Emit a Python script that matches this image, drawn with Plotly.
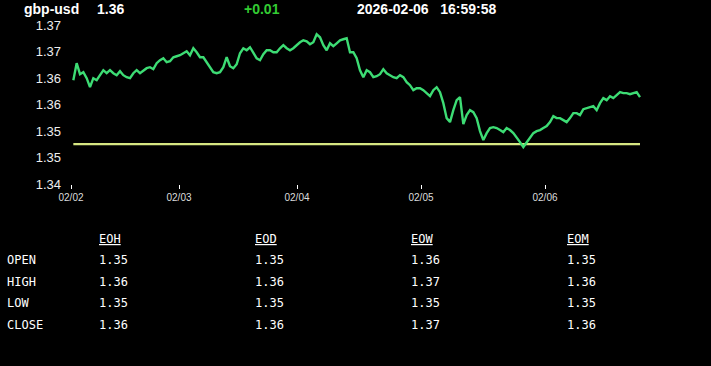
import plotly.graph_objects as go

# ---------------- data ----------------
symbol = "gbp-usd"
last_price = "1.36"
change = "+0.01"
timestamp = "2026-02-06   16:59:58"

prices = [
    1.35962, 1.36283, 1.36076, 1.36113, 1.36000, 1.35830, 1.36000, 1.35962, 1.36057, 1.36151,
    1.36094, 1.36151, 1.36094, 1.36057, 1.36132, 1.36057, 1.36019, 1.36000, 1.36094, 1.36151,
    1.36094, 1.36151, 1.36189, 1.36208, 1.36170, 1.36283, 1.36340, 1.36377, 1.36302, 1.36321,
    1.36396, 1.36415, 1.36434, 1.36472, 1.36509, 1.36434, 1.36566, 1.36491, 1.36396, 1.36396,
    1.36302, 1.36189, 1.36113, 1.36094, 1.36113, 1.36208, 1.36396, 1.36226, 1.36189, 1.36264,
    1.36472, 1.36566, 1.36528, 1.36585, 1.36472, 1.36377, 1.36340, 1.36453, 1.36528, 1.36528,
    1.36491, 1.36491, 1.36566, 1.36623, 1.36566, 1.36528, 1.36566, 1.36623, 1.36679, 1.36717,
    1.36698, 1.36642, 1.36679, 1.36830, 1.36774, 1.36623, 1.36528, 1.36660, 1.36604, 1.36660,
    1.36717, 1.36736, 1.36755, 1.36491, 1.36491, 1.36377, 1.36151, 1.36019, 1.36151, 1.36113,
    1.36019, 1.36038, 1.36076, 1.36170, 1.36094, 1.36057, 1.36019, 1.36000, 1.36057, 1.36019,
    1.35925, 1.35868, 1.35774, 1.35811, 1.35811, 1.35774, 1.35717, 1.35660, 1.35774, 1.35830,
    1.35736, 1.35528, 1.35245, 1.35170, 1.35396, 1.35585, 1.35642, 1.35132, 1.35302, 1.35396,
    1.35358, 1.35245, 1.35000, 1.34830, 1.34962, 1.35057, 1.35075, 1.35057, 1.35019, 1.34981,
    1.35057, 1.35019, 1.34962, 1.34887, 1.34792, 1.34698, 1.34792, 1.34868, 1.34962, 1.35000,
    1.35019, 1.35057, 1.35094, 1.35170, 1.35283, 1.35245, 1.35245, 1.35208, 1.35170, 1.35245,
    1.35340, 1.35340, 1.35302, 1.35415, 1.35434, 1.35453, 1.35472, 1.35396, 1.35528, 1.35623,
    1.35585, 1.35660, 1.35623, 1.35679, 1.35736, 1.35717, 1.35717, 1.35698, 1.35717, 1.35736,
    1.35642,
]
prev_close = 1.34755

day_labels = ["02/02", "02/03", "02/04", "02/05", "02/06"]
day_start_index = [-0.7, 31.7, 67.1, 104.3, 141.5]

y_tick_vals = [1.34, 1.345, 1.35, 1.355, 1.36, 1.365, 1.37]
y_tick_text = ["1.34", "1.35", "1.35", "1.36", "1.36", "1.37", "1.37"]

table_cols = ["EOH", "EOD", "EOW", "EOM"]
table_rows = ["OPEN", "HIGH", "LOW", "CLOSE"]
eoh_vals = ["1.35", "1.36", "1.35", "1.36"]
eod_vals = ["1.35", "1.36", "1.35", "1.36"]
eow_vals = ["1.36", "1.37", "1.35", "1.37"]
eom_vals = ["1.35", "1.36", "1.35", "1.36"]
table_vals = [eoh_vals, eod_vals, eow_vals, eom_vals]

# ---------------- figure ----------------
W, H = 711, 366
L, R, T, B = 70, 66, 20, 182
PW, PH = W - L - R, H - T - B

def px(x):
    return (x - L) / PW

def py(y):
    return (H - B - y) / PH

idx = list(range(len(prices)))

fig = go.Figure()
fig.add_trace(go.Scatter(
    x=[idx[0], idx[-1]], y=[prev_close, prev_close], mode="lines",
    line=dict(color="#d6e682", width=2.2), hoverinfo="skip", showlegend=False))
fig.add_trace(go.Scatter(
    x=idx, y=prices, mode="lines",
    line=dict(color="#3ddc74", width=2.4), showlegend=False))

ann = []
hdr_font = dict(family="Liberation Sans, Arial", size=14, color="white")
ann.append(dict(text="<b>%s</b>" % symbol, x=px(22), y=py(9), xanchor="left", yanchor="middle", font=hdr_font))
ann.append(dict(text="<b>%s</b>" % last_price, x=px(95), y=py(9), xanchor="left", yanchor="middle", font=hdr_font))
ann.append(dict(text="<b>%s</b>" % change, x=px(242), y=py(9), xanchor="left", yanchor="middle",
                font=dict(family="Liberation Sans, Arial", size=14, color="#33cc33")))
ann.append(dict(text="<b>%s</b>" % timestamp.replace(" ", "&nbsp;"), x=px(355), y=py(9), xanchor="left", yanchor="middle", font=hdr_font))

mono = dict(family="DejaVu Sans Mono, Liberation Mono, monospace", size=12, color="white")
col_x = [97, 253, 409, 565]
row_y = [260, 282, 303, 325]
for cx, name, vals in zip(col_x, table_cols, table_vals):
    ann.append(dict(text="<u>%s</u>" % name, x=px(cx), y=py(239), xanchor="left", yanchor="middle", font=mono))
    for ry, v in zip(row_y, vals):
        ann.append(dict(text=v, x=px(cx), y=py(ry), xanchor="left", yanchor="middle", font=mono))
for ry, rname in zip(row_y, table_rows):
    ann.append(dict(text=rname, x=px(5), y=py(ry), xanchor="left", yanchor="middle", font=mono))

for a in ann:
    a.update(xref="paper", yref="paper", showarrow=False)

fig.update_layout(
    width=W, height=H,
    margin=dict(l=L, r=R, t=T, b=B),
    paper_bgcolor="black", plot_bgcolor="black",
    annotations=ann,
    xaxis=dict(range=[-1, 171.5], tickvals=day_start_index, ticktext=day_labels,
               showgrid=False, zeroline=False, showline=False,
               ticks="outside", ticklen=4, tickwidth=1, tickcolor="white",
               tickfont=dict(family="Liberation Sans, Arial", size=10, color="#dddddd")),
    yaxis=dict(range=[1.34, 1.371], tickvals=y_tick_vals, ticktext=y_tick_text,
               showgrid=False, zeroline=False, showline=False, ticks="",
               ticklabelstandoff=8,
               tickfont=dict(family="Liberation Sans, Arial", size=13, color="#eeeeee")),
)

fig.write_html("out.html", config={"displayModeBar": False},
               post_script="document.body.style.margin='0px';document.body.style.background='black';")
